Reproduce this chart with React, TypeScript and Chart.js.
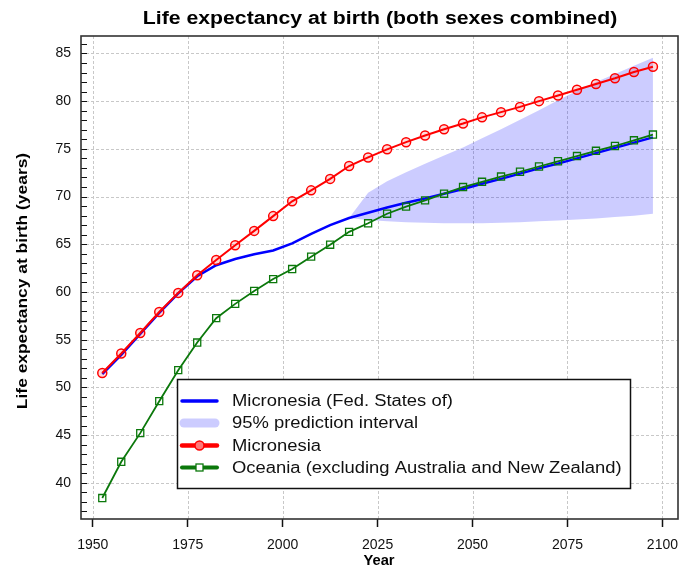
import React, { useEffect, useRef } from "react";
import { Chart, registerables } from "chart.js";

Chart.register(...registerables);

const years = [
  1952.5, 1957.5, 1962.5, 1967.5, 1972.5, 1977.5, 1982.5, 1987.5, 1992.5, 1997.5,
  2002.5, 2007.5, 2012.5, 2017.5, 2022.5, 2027.5, 2032.5, 2037.5, 2042.5, 2047.5,
  2052.5, 2057.5, 2062.5, 2067.5, 2072.5, 2077.5, 2082.5, 2087.5, 2092.5, 2097.5,
];
const micronesiaFSM = [
  51.4, 53.4, 55.6, 57.8, 59.85, 61.65, 62.8, 63.45, 63.95, 64.35,
  65.1, 66.1, 67.0, 67.75, 68.3, 68.85, 69.35, 69.8, 70.3, 70.8,
  71.35, 71.85, 72.4, 72.95, 73.45, 74.0, 74.55, 75.1, 75.65, 76.2,
];
const micronesia = [
  51.5, 53.55, 55.7, 57.9, 59.9, 61.75, 63.35, 64.9, 66.4, 67.95,
  69.5, 70.65, 71.85, 73.2, 74.1, 74.95, 75.7, 76.4, 77.05, 77.65,
  78.3, 78.85, 79.4, 80.0, 80.6, 81.2, 81.8, 82.4, 83.05, 83.6,
];
const oceania = [
  38.4, 42.2, 45.2, 48.55, 51.8, 54.7, 57.25, 58.75, 60.1, 61.35,
  62.4, 63.7, 64.95, 66.3, 67.2, 68.2, 68.95, 69.6, 70.3, 71.0,
  71.55, 72.1, 72.6, 73.15, 73.7, 74.25, 74.8, 75.3, 75.9, 76.5,
];
const piYears = [
  2017.5, 2022.5, 2027.5, 2032.5, 2037.5, 2042.5, 2047.5, 2052.5, 2057.5,
  2062.5, 2067.5, 2072.5, 2077.5, 2082.5, 2087.5, 2092.5, 2097.5,
];
const piLower = [
  67.75, 67.55, 67.4, 67.3, 67.25, 67.2, 67.2, 67.2, 67.25,
  67.3, 67.4, 67.5, 67.6, 67.7, 67.85, 68.0, 68.2,
];
const piUpper = [
  67.75, 70.4, 71.6, 72.55, 73.45, 74.3, 75.15, 76.1, 77.05,
  78.05, 79.05, 80.1, 81.1, 82.0, 82.85, 83.7, 84.55,
];
const xTicks = [1950, 1975, 2000, 2025, 2050, 2075, 2100];
const yTicks = [40, 45, 50, 55, 60, 65, 70, 75, 80, 85];
const yMinorTicks = [
  37, 38, 39, 40, 41, 42, 43, 44, 45, 46, 47, 48, 49, 50, 51, 52, 53, 54, 55, 56, 57, 58, 59, 60,
  61, 62, 63, 64, 65, 66, 67, 68, 69, 70, 71, 72, 73, 74, 75, 76, 77, 78, 79, 80, 81, 82, 83, 84, 85, 86,
];

const TITLE = "Life expectancy at birth (both sexes combined)";
const Y_TITLE = "Life expectancy at birth (years)";
const X_TITLE = "Year";
const LEGEND_LABELS = [
  "Micronesia (Fed. States of)",
  "95% prediction interval",
  "Micronesia",
  "Oceania (excluding Australia and New Zealand)",
];

const FONT = "'Liberation Sans', Arial, Helvetica, sans-serif";
const BLUE = "#0000ff";
const RED = "#ff0000";
const GREEN = "#0b780b";
const BAND = "rgba(0,0,255,0.2)";

const zip = (xs: number[], ys: number[]) => xs.map((x, i) => ({ x, y: ys[i] }));

function stretchedText(ctx: CanvasRenderingContext2D, text: string, x: number, y: number, sx: number) {
  ctx.save();
  ctx.translate(x, y);
  ctx.scale(sx, 1);
  ctx.fillText(text, 0, 0);
  ctx.restore();
}

const gridPlugin = {
  id: "dashgrid",
  beforeDatasetsDraw(chart: any) {
    const ctx = chart.ctx as CanvasRenderingContext2D;
    const { left, right, top, bottom } = chart.chartArea;
    const xs = chart.scales.x;
    const ys = chart.scales.y;
    ctx.save();
    ctx.strokeStyle = "#c8c8c8";
    ctx.lineWidth = 1;
    ctx.setLineDash([3, 2]);
    xTicks.forEach((v) => {
      const px = Math.round(xs.getPixelForValue(v)) + 0.5;
      ctx.beginPath();
      ctx.moveTo(px, top);
      ctx.lineTo(px, bottom);
      ctx.stroke();
    });
    yTicks.forEach((v) => {
      const py = Math.round(ys.getPixelForValue(v)) + 0.5;
      ctx.beginPath();
      ctx.moveTo(left, py);
      ctx.lineTo(right, py);
      ctx.stroke();
    });
    ctx.restore();
  },
};

const decorPlugin = {
  id: "decor",
  afterDraw(chart: any) {
    const ctx = chart.ctx as CanvasRenderingContext2D;
    const { left, right, top, bottom } = chart.chartArea;
    const yScale = chart.scales.y;
    ctx.save();
    // minor inward ticks on y axis
    ctx.strokeStyle = "#111";
    ctx.lineWidth = 1;
    yMinorTicks.forEach((v) => {
      const py = Math.round(yScale.getPixelForValue(v)) + 0.5;
      ctx.beginPath();
      ctx.moveTo(left, py);
      ctx.lineTo(left + 6, py);
      ctx.stroke();
    });
    // frame
    ctx.strokeStyle = "#333";
    ctx.lineWidth = 1.6;
    ctx.strokeRect(left, top, right - left, bottom - top);

    // legend
    const lx = 177.5, ly = 379.5, lw = 453, lh = 109;
    ctx.fillStyle = "#fff";
    ctx.fillRect(lx, ly, lw, lh);
    ctx.strokeStyle = "#111";
    ctx.lineWidth = 1.5;
    ctx.strokeRect(lx, ly, lw, lh);
    const rows = [401, 423, 445.5, 467.5];
    const sx0 = 182, sx1 = 217, tx = 232;
    ctx.lineCap = "round";
    ctx.strokeStyle = BLUE;
    ctx.lineWidth = 3.5;
    ctx.beginPath(); ctx.moveTo(sx0, rows[0]); ctx.lineTo(sx1, rows[0]); ctx.stroke();
    ctx.strokeStyle = BAND;
    ctx.lineWidth = 9;
    ctx.beginPath(); ctx.moveTo(sx0 + 2, rows[1]); ctx.lineTo(sx1 - 2, rows[1]); ctx.stroke();
    ctx.strokeStyle = RED;
    ctx.lineWidth = 4.5;
    ctx.beginPath(); ctx.moveTo(sx0, rows[2]); ctx.lineTo(sx1, rows[2]); ctx.stroke();
    ctx.lineWidth = 1.5;
    ctx.fillStyle = "rgba(255,120,120,1)";
    ctx.beginPath(); ctx.arc((sx0 + sx1) / 2, rows[2], 4.5, 0, Math.PI * 2); ctx.fill(); ctx.stroke();
    ctx.strokeStyle = GREEN;
    ctx.lineWidth = 4;
    ctx.beginPath(); ctx.moveTo(sx0, rows[3]); ctx.lineTo(sx1, rows[3]); ctx.stroke();
    ctx.fillStyle = "#fff";
    ctx.lineWidth = 1.3;
    const cx = (sx0 + sx1) / 2;
    ctx.fillRect(cx - 3.5, rows[3] - 3.5, 7, 7);
    ctx.strokeRect(cx - 3.5, rows[3] - 3.5, 7, 7);

    ctx.fillStyle = "#111";
    ctx.font = `16px ${FONT}`;
    ctx.textAlign = "left";
    ctx.textBaseline = "middle";
    LEGEND_LABELS.forEach((t, i) => stretchedText(ctx, t, tx, rows[i] + 1, 1.15));

    // titles
    ctx.fillStyle = "#000";
    ctx.textAlign = "center";
    ctx.font = `bold 18px ${FONT}`;
    stretchedText(ctx, TITLE, 380, 19, 1.18);
    ctx.font = `bold 14px ${FONT}`;
    stretchedText(ctx, X_TITLE, 379, 561, 1.05);
    ctx.translate(23, 281);
    ctx.rotate(-Math.PI / 2);
    ctx.font = `bold 15px ${FONT}`;
    stretchedText(ctx, Y_TITLE, 0, 0, 1.16);
    ctx.restore();
  },
};

export default function App() {
  const ref = useRef<HTMLCanvasElement | null>(null);
  useEffect(() => {
    if (!ref.current) return;
    const chart = new Chart(ref.current, {
      type: "line",
      data: {
        datasets: [
          {
            label: "Micronesia",
            data: zip(years, micronesia),
            borderColor: RED,
            borderWidth: 2,
            pointStyle: "circle",
            pointRadius: 4.5,
            pointBorderWidth: 1.5,
            pointBorderColor: RED,
            pointBackgroundColor: "rgba(255,0,0,0.15)",
            fill: false,
            order: 0,
          },
          {
            label: "Oceania (excluding Australia and New Zealand)",
            data: zip(years, oceania),
            borderColor: GREEN,
            borderWidth: 1.8,
            pointStyle: "rect",
            pointRadius: 5,
            pointBorderWidth: 1.3,
            pointBorderColor: GREEN,
            pointBackgroundColor: "rgba(255,255,255,0)",
            fill: false,
            order: 1,
          },
          {
            label: "Micronesia (Fed. States of)",
            data: zip(years, micronesiaFSM),
            borderColor: BLUE,
            borderWidth: 2.5,
            pointRadius: 0,
            fill: false,
            order: 2,
          },
          {
            label: "lower",
            data: zip(piYears, piLower),
            borderWidth: 0,
            borderColor: "rgba(0,0,0,0)",
            pointRadius: 0,
            fill: false,
            order: 4,
          },
          {
            label: "95% prediction interval",
            data: zip(piYears, piUpper),
            borderWidth: 0,
            borderColor: "rgba(0,0,0,0)",
            backgroundColor: BAND,
            pointRadius: 0,
            fill: { target: 3 },
            order: 3,
          },
        ],
      },
      options: {
        animation: false,
        responsive: false,
        devicePixelRatio: 1,
        layout: { padding: { left: 0, right: 19, top: 36, bottom: 0 } },
        plugins: {
          legend: { display: false },
          title: { display: false },
          tooltip: { enabled: false },
        },
        elements: { line: { tension: 0 } },
        scales: {
          x: {
            type: "linear",
            min: 1946.9,
            max: 2104.1,
            afterFit: (s: any) => { s.height = 47; },
            afterBuildTicks: (s: any) => { s.ticks = xTicks.map((v) => ({ value: v })); },
            ticks: {
              color: "#111",
              font: { family: FONT, size: 14 },
              padding: 10,
              maxRotation: 0,
              autoSkip: false,
              callback: (v: any) => String(v),
            },
            grid: {
              color: "rgba(0,0,0,0)",
              lineWidth: 1,
              drawTicks: true,
              tickLength: 8,
              tickColor: "#111",
              tickWidth: 1.5,
            },
            border: { display: false },
          },
          y: {
            type: "linear",
            min: 36.2,
            max: 86.83,
            afterFit: (s: any) => { s.width = 81; },
            afterBuildTicks: (s: any) => { s.ticks = yTicks.map((v) => ({ value: v })); },
            ticks: {
              color: "#111",
              font: { family: FONT, size: 14 },
              padding: 10,
              autoSkip: false,
              callback: (v: any) => String(v),
            },
            grid: { display: false, drawTicks: false },
            border: { display: false },
          },
        },
      },
      plugins: [gridPlugin, decorPlugin],
    });
    return () => chart.destroy();
  }, []);
  return (
    <div style={{ position: "absolute", left: 0, top: 0, width: 697, height: 566, background: "#fff" }}>
      <canvas ref={ref} width={697} height={566} style={{ display: "block" }} />
    </div>
  );
}
